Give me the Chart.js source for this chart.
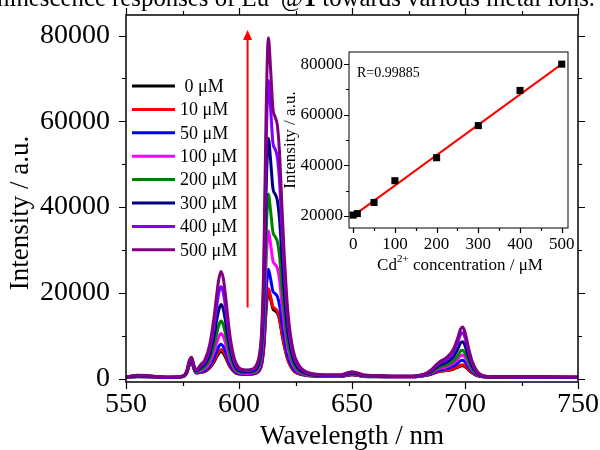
<!DOCTYPE html>
<html><head><meta charset="utf-8">
<script src="https://cdn.jsdelivr.net/npm/chart.js@4.4.0/dist/chart.umd.min.js"></script>
<style>
html,body{margin:0;padding:0;background:#fff;overflow:hidden;width:600px;height:450px;}
#wrap{position:relative;width:600px;height:450px;overflow:hidden;}
#main{position:absolute;left:0;top:0;}
#inset{position:absolute;left:280px;top:40px;}
#ttl{position:absolute;right:5px;top:-15px;font-family:"Liberation Serif";font-size:24.8px;line-height:26px;white-space:nowrap;color:#000;}
#ttl sup{font-size:11px;line-height:0;}
</style></head><body>
<div id="wrap">
<canvas id="main" width="600" height="450"></canvas>
<canvas id="inset" width="310" height="245"></canvas>
<div id="ttl">Luminescence responses of Eu<sup>3+</sup>@<b>1</b> towards various metal ions.</div>
</div>
<script>
// ---------- DATA ----------
const WL = [550,555,560,565,570,574,576,577,578,579,
            580,581,583,585,587,589,590,591,592,593,
            594,595,596,598,600,603,606,608,609,610,
            611,612,613,614,615,616,617,618,619,620,
            621,622,624,626,630,638,645,650,655,662,
            670,677,680,683,685,687,689,691,693,695,
            697,698,699,700,701,702,703,705,707,710,
            720,735,750];
const LABELS = [' 0 μM','10 μM','50 μM','100 μM','200 μM','300 μM','400 μM','500 μM'];
const COLORS = ['#000000','#ff0000','#0000ff','#ff00ff','#008000','#000080','#8000ff','#800080'];
const I0 = [280,440,400,280,240,360,660,1450,3150,4000,
            2350,1300,1450,1700,2450,3950,4950,5850,6300,5950,
            5000,3850,2750,1500,1050,950,1050,1350,1900,3200,
            7400,16100,20400,18600,16300,15800,15300,13500,10400,7700,
            5450,3800,1950,1200,730,510,510,880,510,440,
            400,400,520,760,1000,1380,1680,1820,1950,2220,
            2680,2920,3000,2780,2300,1800,1380,770,460,330,
            280,280,240];
const I10 = [290,460,420,290,250,370,680,1500,3250,4100,
            2400,1350,1500,1800,2600,4200,5300,6300,6800,6400,
            5400,4100,2950,1600,1100,980,1100,1400,1950,3300,
            7600,16600,21000,19100,16800,16300,15700,13900,10700,7900,
            5600,3900,2000,1250,750,520,520,900,520,450,
            410,410,530,780,1050,1450,1750,1900,2050,2350,
            2850,3100,3200,2950,2450,1900,1450,800,480,340,
            290,290,250];
const I50 = [300,480,440,300,260,380,700,1550,3350,4200,
            2450,1400,1600,1950,2950,4900,6200,7400,8000,7500,
            6300,4800,3400,1800,1200,1050,1200,1550,2200,3900,
            9200,20100,25500,23200,20400,19800,19100,16900,13000,9500,
            6700,4600,2300,1400,800,540,540,950,540,460,
            420,420,560,840,1150,1650,2050,2250,2500,2950,
            3700,4150,4300,3900,3150,2400,1800,950,550,360,
            300,300,260];
const I100 = [310,520,470,310,270,400,730,1600,3450,4300,
            2550,1500,1850,2350,3700,6300,8100,9700,10500,9900,
            8300,6300,4400,2200,1400,1200,1350,1800,2700,5100,
            12400,27100,34500,31300,27500,26600,25700,22700,17500,12800,
            8900,6100,3000,1700,900,580,580,1050,580,490,
            440,440,600,920,1300,1900,2400,2650,3000,3600,
            4700,5300,5500,4950,3950,2950,2150,1100,600,380,
            310,310,270];
const I200 = [330,560,500,330,280,420,760,1650,3550,4400,
            2650,1600,2100,2800,4500,7900,10200,12300,13400,12600,
            10500,7900,5500,2600,1600,1350,1500,2100,3200,6200,
            15300,33700,43000,39000,34200,33100,31900,28200,21700,15800,
            10900,7400,3600,2000,1000,620,620,1150,620,520,
            460,460,640,1000,1450,2150,2750,3050,3500,4200,
            5500,6400,6600,5900,4700,3500,2500,1250,650,400,
            330,330,280];
const I300 = [350,620,560,350,300,440,800,1750,3750,4600,
            2800,1750,2500,3400,5600,10100,13200,15900,17300,16300,
            13500,10100,7000,3200,1900,1600,1750,2600,4000,7900,
            19800,43800,56000,50800,44400,43000,41500,36700,28200,20500,
            14100,9500,4600,2500,1150,700,700,1300,700,580,
            500,500,700,1100,1650,2500,3200,3600,4200,5200,
            7100,8300,8600,7700,6100,4500,3100,1500,750,430,
            350,350,300];
const I400 = [380,700,620,380,330,470,850,1900,4000,4800,
            3000,1900,2900,4000,6800,12500,16400,19800,21500,20200,
            16800,12500,8600,3900,2200,1800,2000,3100,4900,9700,
            24500,54000,69500,63000,55000,53500,51500,45500,35000,25500,
            17500,11800,5700,3100,1350,800,800,1450,800,650,
            550,550,750,1200,1850,2850,3650,4150,4950,6300,
            8800,10300,10700,9600,7600,5500,3800,1800,850,470,
            380,380,330];
const I500 = [400,800,700,400,350,500,900,2000,4200,5000,
            3200,2000,3200,4500,7800,14500,19000,23000,25000,23500,
            19500,14500,10000,4500,2500,2000,2200,3500,5500,11000,
            28000,62000,79500,72000,63000,61000,59000,52000,40000,29000,
            20000,13500,6500,3500,1500,900,900,1600,900,700,
            600,600,800,1300,2000,3100,4000,4600,5500,7000,
            9800,11500,12000,10800,8500,6200,4300,2000,900,500,
            400,400,350];
const SERIES = [I0,I10,I50,I100,I200,I300,I400,I500];

const X_TICKS = [550,600,650,700,750];
const X_MINOR = [575,625,675,725];
const Y_TICKS = [0,20000,40000,60000,80000];
const Y_MINOR = [10000,30000,50000,70000];
const Y_TITLE = 'Intensity / a.u.';

// inset
const CONC = [0,10,50,100,200,300,400,500];
const INTENS = [20300,20900,25300,33900,43000,55700,69600,80000];
const FIT_X = [0,500];
const FIT_Y = [20000,80000];
const IN_X_TICKS = [0,100,200,300,400,500];
const IN_X_MINOR = [50,150,250,350,450];
const IN_Y_TICKS = [20000,40000,60000,80000];
const IN_Y_MINOR = [30000,50000,70000];
const R_TEXT = 'R=0.99885';

// arrow (data coordinates)
const ARROW_X = 603.8, ARROW_Y0 = 16600, ARROW_Y1 = 81300;

// ---------- HELPERS ----------
const SERIF = 'Liberation Serif';
function framePlugin(id, lw, maj, min, mirror, xs, xm, ys, ym){
  return {id, afterDraw(chart){
    const {ctx, chartArea:a} = chart; const x = chart.scales.x, y = chart.scales.y;
    ctx.save();
    ctx.strokeStyle = '#000';
    ctx.lineWidth = 1.2;
    ctx.beginPath();
    const tx = (vals,len)=>vals.forEach(v=>{const p=Math.round(x.getPixelForValue(v))+0.5;
      ctx.moveTo(p,a.bottom); ctx.lineTo(p,a.bottom+len);
      if(mirror){ctx.moveTo(p,a.top); ctx.lineTo(p,a.top-len);} });
    const ty = (vals,len)=>vals.forEach(v=>{const p=Math.round(y.getPixelForValue(v))+0.5;
      ctx.moveTo(a.left,p); ctx.lineTo(a.left-len,p);
      if(mirror){ctx.moveTo(a.right,p); ctx.lineTo(a.right+len,p);} });
    tx(xs,maj); tx(xm,min); ty(ys,maj); ty(ym,min);
    ctx.stroke();
    ctx.lineWidth = lw;
    ctx.strokeRect(a.left, a.top, a.right-a.left, a.bottom-a.top);
    ctx.restore();
  }};
}
function fixY(w){ return s => { s.width = w; s.paddingTop = 0; s.paddingBottom = 0; }; }
function fixX(h){ return s => { s.height = h; s.paddingLeft = 0; s.paddingRight = 0; }; }

const mainExtras = {id:'mainExtras', afterDraw(chart){
  const ctx = chart.ctx; const x = chart.scales.x, y = chart.scales.y;
  ctx.save();
  // y title
  ctx.save();
  ctx.translate(21, 213); ctx.rotate(-Math.PI/2);
  ctx.fillStyle = '#000'; ctx.font = '27px "'+SERIF+'"';
  ctx.textAlign = 'center'; ctx.textBaseline = 'middle';
  ctx.fillText(Y_TITLE, 0, 0);
  ctx.restore();
  // legend
  const y0 = 86, step = 23.4;
  chart.data.datasets.forEach((ds,i)=>{
    const yy = y0 + i*step;
    ctx.strokeStyle = ds.borderColor; ctx.lineWidth = 3;
    ctx.beginPath(); ctx.moveTo(132,yy); ctx.lineTo(175,yy); ctx.stroke();
    ctx.fillStyle = '#000'; ctx.font = '18px "'+SERIF+'"';
    ctx.textAlign = 'left'; ctx.textBaseline = 'middle';
    ctx.fillText(ds.label, 180, yy+1);
  });
  // arrow
  const ax = x.getPixelForValue(ARROW_X);
  const ay0 = y.getPixelForValue(ARROW_Y0), ay1 = y.getPixelForValue(ARROW_Y1);
  ctx.strokeStyle = '#ff0000'; ctx.fillStyle = '#ff0000'; ctx.lineWidth = 2;
  ctx.beginPath(); ctx.moveTo(ax, ay0); ctx.lineTo(ax, ay1+8); ctx.stroke();
  ctx.beginPath(); ctx.moveTo(ax, ay1); ctx.lineTo(ax-4.5, ay1+10); ctx.lineTo(ax+4.5, ay1+10); ctx.closePath(); ctx.fill();
  ctx.restore();
}};

const insetExtras = {id:'insetExtras', afterDraw(chart){
  const ctx = chart.ctx; const a = chart.chartArea;
  ctx.save();
  ctx.fillStyle = '#000';
  ctx.textBaseline = 'alphabetic'; ctx.textAlign = 'left';
  ctx.font = '14px "'+SERIF+'"';
  ctx.fillText(R_TEXT, a.left+8, a.top+25);
  // x title with superscript
  const big = '17px "'+SERIF+'"', small = '11px "'+SERIF+'"';
  const p1 = 'Cd', p2 = '2+', p3 = ' concentration / μM';
  ctx.font = big; const w1 = ctx.measureText(p1).width, w3 = ctx.measureText(p3).width;
  ctx.font = small; const w2 = ctx.measureText(p2).width;
  const tot = w1+w2+w3; let sx = (a.left+a.right)/2 + 1.5 - tot/2; const by = 230;
  ctx.font = big; ctx.fillText(p1, sx, by); sx += w1;
  ctx.font = small; ctx.fillText(p2, sx, by-8); sx += w2;
  ctx.font = big; ctx.fillText(p3, sx, by);
  ctx.restore();
}};

// ---------- MAIN CHART ----------
new Chart(document.getElementById('main'), {
  type: 'line',
  data: {datasets: SERIES.map((s,i)=>({
    label: LABELS[i],
    data: WL.map((w,j)=>({x:w, y:s[j]})),
    borderColor: COLORS[i], backgroundColor: COLORS[i],
    borderWidth: 3, pointRadius: 0, fill: false,
    cubicInterpolationMode: 'monotone',
    order: SERIES.length-1-i
  }))},
  options: {
    responsive: false, animation: false, devicePixelRatio: 1,
    layout: {padding: {top: 15, right: 22, left: 0, bottom: 0}},
    plugins: {legend: {display: false}, tooltip: {enabled: false}},
    scales: {
      x: {type: 'linear', min: 550, max: 750,
        grid: {display: false, drawTicks: false}, border: {display: false},
        afterBuildTicks: s => { s.ticks = X_TICKS.map(v=>({value:v})); },
        ticks: {padding: 6, color: '#000', maxRotation: 0, font: {family: SERIF, size: 28}, callback: v => String(v)},
        title: {display: true, text: 'Wavelength / nm', color: '#000', font: {family: SERIF, size: 27, lineHeight: 1}, padding: 0},
        afterFit: fixX(68)
      },
      y: {type: 'linear', min: -800, max: 84800,
        grid: {display: false, drawTicks: false}, border: {display: false},
        afterBuildTicks: s => { s.ticks = Y_TICKS.map(v=>({value:v})); },
        ticks: {padding: 16, color: '#000', font: {family: SERIF, size: 28}, callback: v => String(v)},
        title: {display: false},
        afterFit: fixY(126)
      }
    }
  },
  plugins: [framePlugin('mainFrame', 1.5, 7, 4, true, X_TICKS, X_MINOR, Y_TICKS, Y_MINOR), mainExtras]
});

// ---------- INSET ----------
new Chart(document.getElementById('inset'), {
  type: 'scatter',
  data: {datasets: [
    {type: 'line', label: 'fit', data: FIT_X.map((v,i)=>({x:v, y:FIT_Y[i]})),
     borderColor: '#ff0000', borderWidth: 2, pointRadius: 0, fill: false, order: 1},
    {label: 'data', data: CONC.map((v,i)=>({x:v, y:INTENS[i]})),
     pointStyle: 'rect', pointRadius: 5, backgroundColor: '#000', borderColor: '#000', borderWidth: 0, order: 0}
  ]},
  options: {
    responsive: false, animation: false, devicePixelRatio: 1,
    layout: {padding: {top: 12, right: 22, left: 0, bottom: 0}},
    plugins: {legend: {display: false}, tooltip: {enabled: false}},
    scales: {
      x: {type: 'linear', min: -10, max: 515,
        grid: {display: false, drawTicks: false}, border: {display: false},
        afterBuildTicks: s => { s.ticks = IN_X_TICKS.map(v=>({value:v})); },
        ticks: {padding: 6, color: '#000', maxRotation: 0, font: {family: SERIF, size: 17}, callback: v => String(v)},
        afterFit: fixX(57)
      },
      y: {type: 'linear', min: 15200, max: 84800,
        grid: {display: false, drawTicks: false}, border: {display: false},
        afterBuildTicks: s => { s.ticks = IN_Y_TICKS.map(v=>({value:v})); },
        ticks: {padding: 6, color: '#000', font: {family: SERIF, size: 17}, callback: v => String(v)},
        title: {display: true, text: 'Intensity / a.u.', color: '#000', font: {family: SERIF, size: 17, lineHeight: 1}, padding: {top: 2, bottom: 0}},
        afterFit: fixY(69)
      }
    }
  },
  plugins: [framePlugin('insetFrame', 1, 5, 3, false, IN_X_TICKS, IN_X_MINOR, IN_Y_TICKS, IN_Y_MINOR), insetExtras]
});
</script>
</body></html>
